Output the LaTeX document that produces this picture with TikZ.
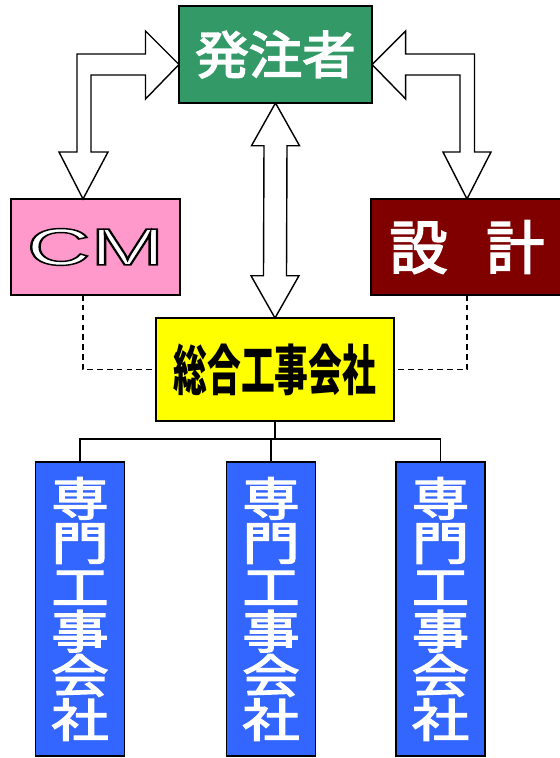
\documentclass[tikz,border=0pt]{standalone}
\usepackage{fontspec}
\usepackage{graphicx}
\usetikzlibrary{calc}
\newfontfamily\jpfont{Noto Sans CJK JP}
\newfontfamily\jpmid[FakeBold=3]{Noto Sans CJK JP}
\newfontfamily\cmfont{Liberation Sans}
\definecolor{hzgreen}{RGB}{51,153,102}
\definecolor{cmpink}{RGB}{255,153,204}
\definecolor{skred}{RGB}{128,0,0}
\definecolor{gcyellow}{RGB}{255,255,0}
\definecolor{snblue}{RGB}{51,102,255}

\begin{document}
\begin{tikzpicture}[
	box/.style = {draw = black, line width = 0.5pt, inner sep = 0pt, outer sep = 0pt},
	senmon/.style = {box, fill = snblue, text = white, minimum width = 0.89 cm, minimum height = 2.94 cm, font = \jpmid\fontsize{13}{12.6}\selectfont},
	blockarrow/.style = {draw = black, fill = white, line width = 0.4pt, line join = miter},
	tree/.style = {draw = black, line width = 0.4pt},
	dotline/.style = {draw = black, line width = 0.4pt, dash pattern = on 1.6pt off 1.2pt}
]
	\useasboundingbox (0, 0) rectangle (5.59, 7.58);
	
	\node[box, fill = hzgreen, text = white, minimum width = 1.93 cm, minimum height = 0.97 cm, font = \jpmid\fontsize{14.5}{14.5}\selectfont] (hz) at (2.755, 7.035) {\scalebox{1.05}[1]{発注者}};
	\node[box, fill = cmpink, text = white, minimum width = 1.69 cm, minimum height = 0.96 cm, font = \cmfont\fontsize{14.8}{14.8}\selectfont] (cm) at (0.955, 5.11) {\scalebox{1.7}[1]{\special{pdf:code q 0 G 2 Tr 0.4 w}CM\special{pdf:code 0 Tr Q}}};
	\node[box, fill = skred, text = white, minimum width = 1.92 cm, minimum height = 0.96 cm, font = \jpmid\fontsize{16.5}{16.5}\selectfont] (sk) at (4.67, 5.11) {設\hspace{0.67em}計};
	\node[box, fill = gcyellow, minimum width = 2.38 cm, minimum height = 1.03 cm, font = \jpfont\bfseries\fontsize{15.5}{15.5}\selectfont] (gc) at (2.75, 3.885) {\scalebox{0.62}[1]{総合工事会社}};
	\foreach \n/\x in {s1/0.80, s2/2.71, s3/4.405}
	\node[senmon] (\n) at (\x, 1.49) {\scalebox{1.25}[1]{\parbox{1em}{\centering\lineskiplimit=-10pt 専\\門\\工\\事\\会\\社}}};
	
	\draw[blockarrow] ($(cm.north)+(-0.125, 0)$) -- ++(0.25, 0.47) -- ++(-0.17, 0) |- ($(hz.west)+(-0.335, -0.205)$) -- ++(0, -0.24) -- ($(hz.west)+(0, -0.10)$) -- ++(-0.335, 0.335) -- ++(0, -0.23) -- ++(-0.685, 0) -- ++(0, -0.98) -- ++(-0.18, 0) -- cycle;
	\draw[blockarrow] ($(hz.east)+(0, -0.10)$) -- ++(0.337, 0.335) -- ++(0, -0.23) -- ++(0.688, 0) -- ++(0, -0.98) -- ++(0.165, 0) -- (sk.north) -- ++(-0.24, 0.47) -- ++(0.17, 0) |- ($(hz.east)+(0.337, -0.205)$) -- ++(0, -0.24) -- cycle;
	\draw[blockarrow] (hz.south) -- ++(0.24, -0.427) -- ++(-0.125, 0) -- ($(gc.north)+(0.115, 0.423)$) -- ++(0.125, 0) -- (gc.north) -- ++(-0.24, 0.423) -- ++(0.125, 0) -- ($(hz.south)+(-0.115, -0.427)$) -- ++(-0.125, 0) -- cycle;
	
	\draw[dotline] ($(cm.south)+(-0.125, 0)$) |- (gc.west);
	\draw[dotline] (sk.south) |- (gc.east);
	\foreach \n in {s1, s2, s3}
	\draw[tree] (gc.south) -- ++(0, -0.18) -| (\n.north);
\end{tikzpicture}
\end{document}
